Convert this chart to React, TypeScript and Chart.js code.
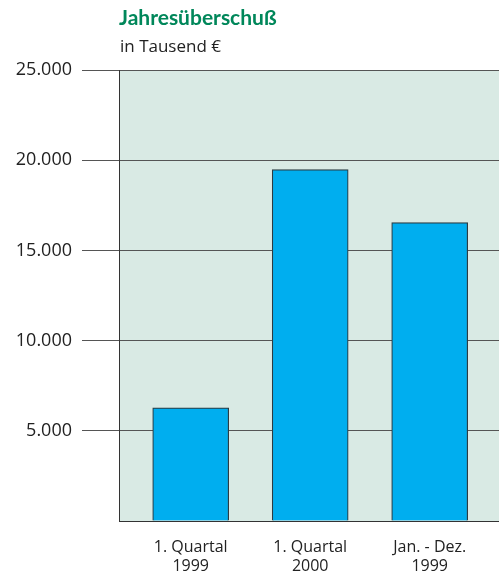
import React, { useEffect, useRef } from "react";
import { Chart, registerables } from "chart.js";

Chart.register(...registerables);

const categories: string[][] = [
  ["1. Quartal", "1999"],
  ["1. Quartal", "2000"],
  ["Jan. - Dez.", "1999"],
];
const values: number[] = [6270, 19480, 16540];
const yTicks: number[] = [0, 5000, 10000, 15000, 20000, 25000];
const titleText = "Jahresüberschuß";
const subtitleText = "in Tausend €";

const FONT = "'Open Sans', 'Noto Sans', sans-serif";
const TITLE_FONT = "Lato, 'Open Sans', sans-serif";

const fmt = (v: number) => String(v).replace(/\B(?=(\d{3})+(?!\d))/g, ".");

const bgPlugin = {
  id: "plotBg",
  beforeDraw(chart: any) {
    const { ctx, chartArea } = chart;
    ctx.save();
    ctx.fillStyle = "#d9eae4";
    ctx.fillRect(chartArea.left, chartArea.top, chartArea.right - chartArea.left, chartArea.bottom - chartArea.top);
    ctx.restore();
  },
  afterDraw(chart: any) {
    const { ctx, chartArea } = chart;
    ctx.save();
    ctx.textAlign = "left";
    ctx.textBaseline = "alphabetic";
    ctx.fillStyle = "#00875a";
    ctx.font = `bold 21px ${TITLE_FONT}`;
    ctx.fillText(titleText, chartArea.left, chartArea.top - 45);
    ctx.fillStyle = "#222";
    ctx.font = `17px ${FONT}`;
    ctx.fillText(subtitleText, chartArea.left + 1, chartArea.top - 18);
    ctx.restore();
  },
};

export default function App() {
  const ref = useRef<HTMLCanvasElement>(null);
  useEffect(() => {
    if (!ref.current) return;
    const chart = new Chart(ref.current, {
      type: "bar",
      data: {
        datasets: [
          {
            data: values.map((v, i) => ({ x: i, y: v })),
            backgroundColor: "#00aeef",
            borderColor: "#2b3b42",
            borderWidth: 1.2,
            barThickness: 76,
          },
        ],
      },
      plugins: [bgPlugin],
      options: {
        animation: false,
        responsive: false,
        maintainAspectRatio: false,
        layout: { padding: { top: 70, right: 0, bottom: 0, left: 0 } },
        plugins: { legend: { display: false }, tooltip: { enabled: false }, title: { display: false } },
        scales: {
          x: {
            type: "linear",
            offset: false,
            min: -0.6,
            max: 2.58,
            afterBuildTicks: (scale: any) => {
              scale.ticks = categories.map((_, i) => ({ value: i }));
            },
            afterFit: (scale: any) => {
              scale.height = 59;
            },
            grid: { display: false, drawTicks: false },
            border: { display: true, color: "#333", width: 1 },
            ticks: {
              autoSkip: false,
              maxRotation: 0,
              padding: 17,
              color: "#222",
              font: { family: FONT, size: 16, lineHeight: 1.19 },
              callback: (v: any) => categories[v as number] ?? "",
            },
          },
          y: {
            min: 0,
            max: 25000,
            afterBuildTicks: (scale: any) => {
              scale.ticks = yTicks.map((v) => ({ value: v }));
            },
            afterFit: (scale: any) => {
              scale.width = 119;
            },
            grid: {
              color: "#555",
              lineWidth: 1,
              drawTicks: true,
              tickLength: 37,
              tickColor: (ctx: any) => (ctx.tick && ctx.tick.value === 0 ? "rgba(0,0,0,0)" : "#555"),
            },
            border: { display: true, color: "#333", width: 1 },
            ticks: {
              padding: 10,
              color: "#222",
              font: { family: FONT, size: 18 },
              callback: (v: any) => (v === 0 ? "" : fmt(v as number)),
            },
          },
        },
      },
    } as any);
    return () => chart.destroy();
  }, []);
  return (
    <div style={{ position: "absolute", left: 0, top: 0, width: 499, height: 580 }}>
      <canvas ref={ref} width={499} height={580} style={{ width: 499, height: 580 }} />
    </div>
  );
}
